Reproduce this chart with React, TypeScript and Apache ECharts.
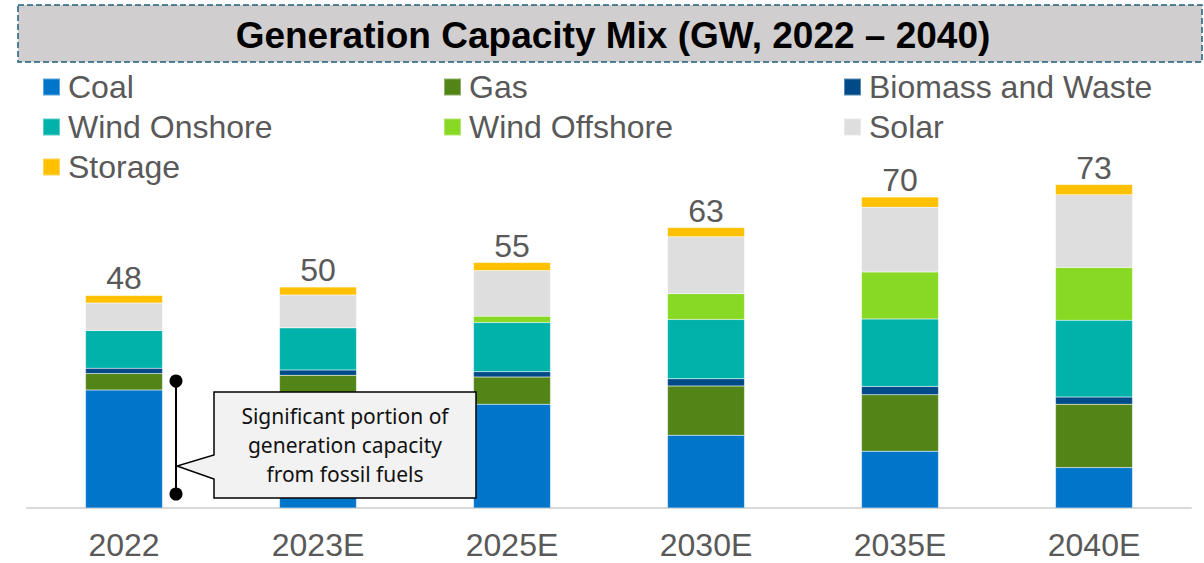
import React, { useEffect, useRef } from "react";
import * as echarts from "echarts";

const categories = ["2022", "2023E", "2025E", "2030E", "2035E", "2040E"];
const coal = [26.6, 25.9, 23.4, 16.4, 12.8, 9.1];
const gas = [3.7, 4.0, 6.1, 11.1, 12.7, 14.3];
const biomass = [1.2, 1.2, 1.2, 1.6, 1.9, 1.6];
const windOnshore = [8.5, 9.5, 11.1, 13.4, 15.2, 17.3];
const windOffshore = [0, 0, 1.4, 5.8, 10.6, 11.9];
const solar = [6.2, 7.4, 10.3, 12.8, 14.6, 16.4];
const storage = [1.7, 1.8, 1.8, 2.1, 2.3, 2.3];
const totals = [48, 50, 55, 63, 70, 73];

const titleText = "Generation Capacity Mix (GW, 2022 – 2040)";
const calloutLines = ["Significant portion of", "generation capacity", "from fossil fuels"];

const FONT = "Arial, 'Liberation Sans', sans-serif";
const GREY = "#595959";

export default function App() {
  const ref = useRef<HTMLDivElement>(null);
  useEffect(() => {
    document.body.style.margin = "0";
    const chart = echarts.init(ref.current!, undefined, { renderer: "svg" });
    const seriesDefs = [
      { name: "Coal", data: coal, color: "#0075c9" },
      { name: "Gas", data: gas, color: "#538418" },
      { name: "Biomass and Waste", data: biomass, color: "#004a87" },
      { name: "Wind Onshore", data: windOnshore, color: "#00b2a9" },
      { name: "Wind Offshore", data: windOffshore, color: "#88d924" },
      { name: "Solar", data: solar, color: "#dedede" },
      { name: "Storage", data: storage, color: "#ffc000" },
    ];
    const legendCommon = {
      orient: "vertical",
      top: 71,
      padding: 0,
      icon: "rect",
      itemWidth: 17,
      itemHeight: 17,
      itemGap: 8,
      selectedMode: false,
      textStyle: {
        fontFamily: FONT,
        fontSize: 32,
        color: GREY,
        lineHeight: 32,
        padding: [0, 0, 0, 3],
      },
    };
    chart.setOption({
      animation: false,
      textStyle: { fontFamily: FONT },
      legend: [
        { ...legendCommon, left: 42, data: ["Coal", "Wind Onshore", "Storage"] },
        { ...legendCommon, left: 443, data: ["Gas", "Wind Offshore"] },
        { ...legendCommon, left: 843, data: ["Biomass and Waste", "Solar"] },
      ],
      grid: { left: 27, right: 13, top: 153, bottom: 55 },
      xAxis: {
        type: "category",
        data: categories,
        axisTick: { show: false },
        axisLine: { lineStyle: { color: "#d9d9d9", width: 2 } },
        axisLabel: { fontSize: 32, color: GREY, fontFamily: FONT, margin: 21 },
      },
      yAxis: { type: "value", min: 0, max: 80, show: false, splitLine: { show: false } },
      series: seriesDefs.map((s, i) => ({
        name: s.name,
        type: "bar",
        stack: "total",
        barWidth: 77,
        data: s.data,
        itemStyle: { color: s.color, borderColor: "rgba(255,255,255,0.35)", borderWidth: 0.5 },
        label:
          i === seriesDefs.length - 1
            ? {
                show: true,
                position: "top",
                distance: 1,
                fontSize: 32,
                color: GREY,
                fontFamily: FONT,
                formatter: (p: any) => String(totals[p.dataIndex]),
              }
            : { show: false },
      })),
      graphic: [
        {
          type: "rect",
          z: 100,
          shape: { x: 18, y: 5, width: 1184, height: 57 },
          style: { fill: "#d0cece", stroke: "#1f5f7c", lineWidth: 1.5, lineDash: [6, 3] },
        },
        {
          type: "text",
          z: 101,
          x: 613,
          y: 35,
          style: {
            text: titleText,
            font: `bold 37px ${FONT}`,
            fill: "#000",
            align: "center",
            verticalAlign: "middle",
          },
        },
        {
          type: "line",
          z: 100,
          shape: { x1: 176, y1: 381, x2: 176, y2: 494 },
          style: { stroke: "#000", lineWidth: 2 },
        },
        { type: "circle", z: 101, shape: { cx: 176, cy: 381, r: 6.5 }, style: { fill: "#000" } },
        { type: "circle", z: 101, shape: { cx: 176, cy: 494, r: 6.5 }, style: { fill: "#000" } },
        {
          type: "polygon",
          z: 100,
          shape: {
            points: [
              [214, 392],
              [476, 392],
              [476, 498],
              [214, 498],
              [214, 479],
              [177, 466],
              [214, 455],
            ],
          },
          style: { fill: "#f2f2f2", stroke: "#000", lineWidth: 1.5 },
        },
        {
          type: "text",
          z: 102,
          x: 345,
          y: 445,
          style: {
            text: calloutLines.join("\n"),
            fontFamily: "'Noto Sans', 'Open Sans', sans-serif",
            fontSize: 21,
            lineHeight: 29,
            fill: "#111",
            align: "center",
            verticalAlign: "middle",
          },
        },
      ],
    });
    return () => chart.dispose();
  }, []);
  return <div ref={ref} style={{ width: 1204, height: 563 }} />;
}
